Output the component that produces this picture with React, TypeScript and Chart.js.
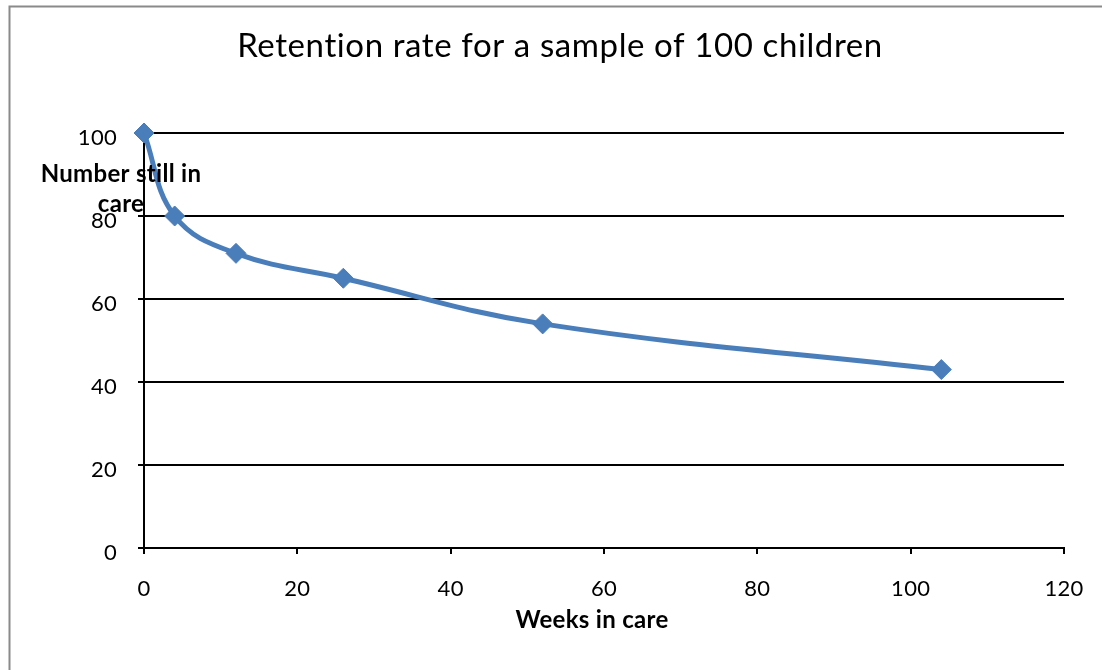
import React, { useEffect, useRef } from 'react';
import { Chart, registerables } from 'chart.js';

Chart.register(...registerables);

// ---- data ----
const weeksInCare = [0, 4, 12, 26, 52, 104];
const numberStillInCare = [100, 80, 71, 65, 54, 43];
const xTickValues = [0, 20, 40, 60, 80, 100, 120];
const yTickValues = [0, 20, 40, 60, 80, 100];
const chartTitle = 'Retention rate for a sample of 100 children';
const xAxisTitle = 'Weeks in care';
const yAxisTitleLines = ['Number still in', 'care'];

const FONT = 'Lato, "Open Sans", "DejaVu Sans", sans-serif';
const SERIES_COLOR = '#4A7EBB';

const textPlugin = {
  id: 'excelTexts',
  beforeDraw(chart: any) {
    const ctx = chart.ctx;
    try { (ctx as any).letterSpacing = '0.3px'; } catch (e) {}
    ctx.save();
    ctx.strokeStyle = '#8a8a8a';
    ctx.lineWidth = 2;
    ctx.beginPath();
    ctx.moveTo(9.5, 700);
    ctx.lineTo(9.5, 6.5);
    ctx.lineTo(1200, 6.5);
    ctx.stroke();
    ctx.restore();
  },
  afterDraw(chart: any) {
    const ctx = chart.ctx;
    ctx.save();
    ctx.fillStyle = '#000000';
    ctx.textAlign = 'center';
    ctx.textBaseline = 'alphabetic';
    try { (ctx as any).letterSpacing = '0.6px'; } catch (e) {}
    ctx.font = `33px ${FONT}`;
    ctx.fillText(chartTitle, 560, 57);
    try { (ctx as any).letterSpacing = '0.3px'; } catch (e) {}
    ctx.font = `bold 24px ${FONT}`;
    ctx.fillText(xAxisTitle, 592, 628);
    ctx.fillText(yAxisTitleLines[0], 121, 182);
    ctx.fillText(yAxisTitleLines[1], 121, 212);
    ctx.restore();
  },
};

export default function App() {
  const canvasRef = useRef<HTMLCanvasElement | null>(null);

  useEffect(() => {
    const canvas = canvasRef.current;
    if (!canvas) return;
    const chart = new Chart(canvas, {
      type: 'scatter',
      data: {
        datasets: [
          {
            label: 'Number still in care',
            data: weeksInCare.map((w, i) => ({ x: w, y: numberStillInCare[i] })),
            showLine: true,
            tension: 0.4,
            borderColor: SERIES_COLOR,
            backgroundColor: SERIES_COLOR,
            borderWidth: 5,
            pointStyle: 'rectRot',
            pointRadius: 10,
            pointBorderWidth: 1,
            pointBorderColor: SERIES_COLOR,
            pointBackgroundColor: SERIES_COLOR,
            clip: false,
          } as any,
        ],
      },
      options: {
        responsive: false,
        animation: false,
        devicePixelRatio: 1,
        layout: { padding: { top: 133, left: 0, right: 38, bottom: 0 } },
        plugins: {
          legend: { display: false },
          title: { display: false },
          tooltip: { enabled: false },
        },
        scales: {
          x: {
            type: 'linear',
            min: 0,
            max: 120,
            afterFit: (s: any) => {
              s.height = 122;
              s.paddingLeft = 0;
              s.paddingRight = 0;
            },
            afterBuildTicks: (s: any) => {
              s.ticks = xTickValues.map((v) => ({ value: v }));
            },
            ticks: {
              color: '#000000',
              font: { family: FONT, size: 22 },
              padding: 22,
              maxRotation: 0,
              autoSkip: false,
            },
            grid: {
              drawOnChartArea: false,
              drawTicks: true,
              tickLength: 6,
              color: '#000000',
              lineWidth: 2,
            },
            border: { display: true, color: '#000000', width: 2 },
          },
          y: {
            type: 'linear',
            min: 0,
            max: 100,
            afterFit: (s: any) => {
              s.width = 144;
              s.paddingTop = 0;
              s.paddingBottom = 0;
            },
            afterBuildTicks: (s: any) => {
              s.ticks = yTickValues.map((v) => ({ value: v }));
            },
            ticks: {
              color: '#000000',
              font: { family: FONT, size: 22 },
              padding: 21,
              labelOffset: 5,
              autoSkip: false,
            },
            grid: {
              drawOnChartArea: true,
              drawTicks: true,
              tickLength: 6,
              color: '#000000',
              lineWidth: 2,
            },
            border: { display: true, color: '#000000', width: 2 },
          },
        },
      },
      plugins: [textPlugin],
    });
    return () => chart.destroy();
  }, []);

  return (
    <div style={{ position: 'absolute', left: 0, top: 0, width: 1102, height: 670, background: '#ffffff' }}>
      <canvas ref={canvasRef} width={1102} height={670} style={{ display: 'block', width: 1102, height: 670 }} />
    </div>
  );
}
